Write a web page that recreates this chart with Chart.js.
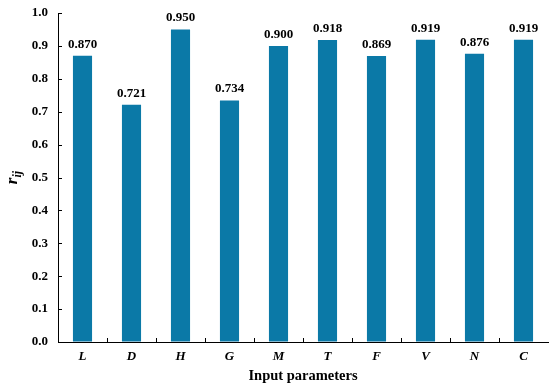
<!DOCTYPE html>
<html>
<head>
<meta charset="utf-8">
<script src="https://cdn.jsdelivr.net/npm/chart.js@4"></script>
<style>
  html, body { margin: 0; padding: 0; background: #fff; }
  #wrap { width: 550px; height: 385px; }
</style>
</head>
<body>
<div id="wrap"><canvas id="chart"></canvas></div>
<script>
// Data
const params = ['L', 'D', 'H', 'G', 'M', 'T', 'F', 'V', 'N', 'C'];
const rij = [0.870, 0.721, 0.950, 0.734, 0.900, 0.918, 0.869, 0.919, 0.876, 0.919];
const yTicks = [0.0, 0.1, 0.2, 0.3, 0.4, 0.5, 0.6, 0.7, 0.8, 0.9, 1.0];

const BAR_COLOR = '#0b79a7';
const FONT = "'Liberation Serif', 'Times New Roman', serif";

// Value labels above bars + inside ticks + y axis title with subscript
const extras = {
    id: 'extras',
    afterDatasetsDraw(chart) {
        const ctx = chart.ctx;
        const meta = chart.getDatasetMeta(0);
        const area = chart.chartArea;
        ctx.save();
        ctx.fillStyle = '#000';
        ctx.font = 'bold 13px ' + FONT;
        ctx.textAlign = 'center';
        ctx.textBaseline = 'bottom';
        meta.data.forEach((bar, i) => {
            ctx.fillText(rij[i].toFixed(3), bar.x, bar.y - 5);
        });

        ctx.strokeStyle = '#000';
        ctx.lineWidth = 1;
        // x ticks pointing up, at category boundaries
        const xs = chart.scales.x;
        for (let i = 1; i < params.length; i++) {
            const x = Math.round((xs.getPixelForValue(i - 1) + xs.getPixelForValue(i)) / 2) + 0.5;
            ctx.beginPath();
            ctx.moveTo(x, area.bottom);
            ctx.lineTo(x, area.bottom - 4);
            ctx.stroke();
        }
        // y ticks pointing right
        const ys = chart.scales.y;
        yTicks.forEach(v => {
            const y = Math.round(ys.getPixelForValue(v)) + 0.5;
            ctx.beginPath();
            ctx.moveTo(area.left, y);
            ctx.lineTo(area.left + 4, y);
            ctx.stroke();
        });

        // y title r_ij (rotated)
        const midY = (area.top + area.bottom) / 2;
        ctx.translate(12, midY);
        ctx.rotate(-Math.PI / 2);
        ctx.textAlign = 'left';
        ctx.textBaseline = 'alphabetic';
        ctx.font = 'bold italic 17px ' + FONT;
        const rw = ctx.measureText('r').width;
        ctx.font = 'bold italic 12px ' + FONT;
        const sw = ctx.measureText('ij').width;
        const total = rw + sw;
        ctx.font = 'bold italic 17px ' + FONT;
        ctx.fillText('r', -total / 2, 5);
        ctx.font = 'bold italic 12px ' + FONT;
        ctx.fillText('ij', -total / 2 + rw, 9);
        ctx.restore();
    }
};

new Chart(document.getElementById('chart'), {
    type: 'bar',
    data: {
        labels: params,
        datasets: [{
            data: rij,
            backgroundColor: BAR_COLOR,
            borderWidth: 0,
            categoryPercentage: 1.0,
            barPercentage: 0.39
        }]
    },
    options: {
        responsive: true,
        maintainAspectRatio: false,
        animation: false,
        devicePixelRatio: 1,
        layout: { padding: { top: 13, right: 2, left: 0, bottom: 0 } },
        plugins: {
            legend: { display: false },
            tooltip: { enabled: false }
        },
        scales: {
            x: {
                grid: { display: false, drawTicks: false },
                border: { display: true, color: '#000', width: 1 },
                ticks: {
                    color: '#000',
                    padding: 7,
                    font: { family: FONT, size: 13, weight: 'bold', style: 'italic' }
                },
                title: {
                    display: true,
                    text: 'Input parameters',
                    color: '#000',
                    padding: { top: 2, bottom: 0 },
                    font: { family: FONT, size: 14.5, weight: 'bold' }
                },
                afterFit(scale) { scale.height = 43; }
            },
            y: {
                min: 0,
                max: 1,
                afterBuildTicks(scale) {
                    scale.ticks = yTicks.map(v => ({ value: v }));
                },
                grid: {
                    drawOnChartArea: false,
                    drawTicks: true,
                    tickLength: 9,
                    tickColor: 'rgba(0,0,0,0)'
                },
                border: { display: true, color: '#000', width: 1 },
                ticks: {
                    color: '#000',
                    padding: 1,
                    font: { family: FONT, size: 13, weight: 'bold' },
                    callback: v => Number(v).toFixed(1)
                },
                afterFit(scale) { scale.width = 58; }
            }
        }
    },
    plugins: [extras]
});
</script>
</body>
</html>
